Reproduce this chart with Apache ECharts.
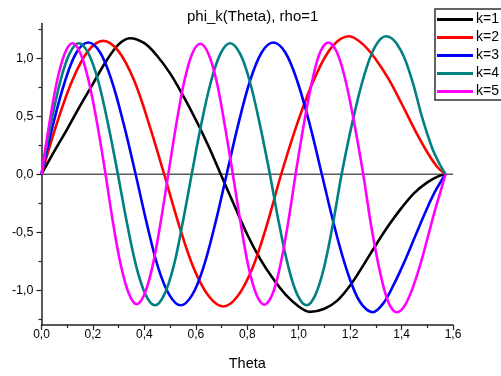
<!DOCTYPE html>
<html>
<head>
<meta charset="utf-8">
<script src="https://cdn.jsdelivr.net/npm/echarts@6/dist/echarts.min.js"></script>
<style>
html,body{margin:0;padding:0;background:#fff;}
#c{width:501px;height:376px;}
</style>
</head>
<body>
<div id="c"></div>
<script>
// ---- data ----
const seriesNames = ['k=1', 'k=2', 'k=3', 'k=4', 'k=5'];
const seriesColors = ['#000000', '#ff0000', '#0000ff', '#008080', '#ff00ff'];

const theta1 = [0, 0.05, 0.10, 0.15, 0.20, 0.25, 0.30, 0.344, 0.40, 0.45, 0.50, 0.55, 0.60, 0.65, 0.697, 0.75, 0.80, 0.85, 0.90, 0.95, 1.00, 1.044, 1.10, 1.15, 1.20, 1.25, 1.30, 1.35, 1.40, 1.45, 1.50, 1.54, 1.571];
const phi1 = [0, 0.20, 0.39, 0.59, 0.78, 0.97, 1.12, 1.173, 1.13, 1.02, 0.87, 0.68, 0.47, 0.24, 0, -0.27, -0.52, -0.73, -0.90, -1.04, -1.14, -1.187, -1.16, -1.09, -0.96, -0.79, -0.61, -0.44, -0.29, -0.16, -0.07, -0.02, 0];

const theta2 = [0, 0.06, 0.12, 0.18, 0.24, 0.30, 0.36, 0.42, 0.477, 0.535, 0.592, 0.65, 0.707, 0.763, 0.82, 0.876, 0.932, 0.998, 1.064, 1.13, 1.196, 1.25, 1.30, 1.35, 1.40, 1.45, 1.50, 1.54, 1.571];
const phi2 = [0, 0.44, 0.81, 1.06, 1.15, 1.06, 0.81, 0.42, 0, -0.44, -0.81, -1.05, -1.14, -1.05, -0.81, -0.44, 0, 0.46, 0.84, 1.10, 1.19, 1.12, 0.99, 0.82, 0.61, 0.39, 0.19, 0.06, 0];

const theta3 = [0, 0.045, 0.091, 0.136, 0.182, 0.228, 0.274, 0.32, 0.366, 0.41, 0.453, 0.497, 0.541, 0.586, 0.63, 0.675, 0.72, 0.765, 0.81, 0.856, 0.901, 0.948, 0.995, 1.043, 1.09, 1.14, 1.189, 1.238, 1.288, 1.33, 1.37, 1.41, 1.45, 1.49, 1.53, 1.571];
const phi3 = [0, 0.43, 0.80, 1.05, 1.136, 1.05, 0.80, 0.43, 0, -0.43, -0.80, -1.04, -1.13, -1.04, -0.80, -0.43, 0, 0.43, 0.80, 1.05, 1.136, 1.05, 0.80, 0.43, 0, -0.46, -0.84, -1.10, -1.19, -1.11, -0.95, -0.76, -0.55, -0.34, -0.15, 0];

const theta4 = [0, 0.036, 0.073, 0.109, 0.145, 0.183, 0.221, 0.259, 0.297, 0.333, 0.369, 0.405, 0.441, 0.477, 0.513, 0.548, 0.584, 0.621, 0.659, 0.696, 0.733, 0.772, 0.81, 0.849, 0.888, 0.924, 0.96, 0.995, 1.031, 1.065, 1.099, 1.133, 1.167, 1.21, 1.253, 1.297, 1.34, 1.36, 1.38, 1.41, 1.445, 1.48, 1.52, 1.55, 1.571];
const phi4 = [0, 0.43, 0.80, 1.04, 1.13, 1.04, 0.80, 0.43, 0, -0.43, -0.80, -1.04, -1.13, -1.04, -0.80, -0.43, 0, 0.43, 0.80, 1.04, 1.13, 1.04, 0.80, 0.43, 0, -0.43, -0.80, -1.04, -1.13, -1.04, -0.80, -0.43, 0, 0.46, 0.84, 1.10, 1.19, 1.175, 1.13, 1.01, 0.78, 0.49, 0.22, 0.08, 0];

const theta5 = [0, 0.03, 0.06, 0.09, 0.12, 0.152, 0.184, 0.217, 0.249, 0.279, 0.309, 0.34, 0.37, 0.401, 0.432, 0.462, 0.493, 0.524, 0.555, 0.586, 0.617, 0.649, 0.681, 0.712, 0.744, 0.775, 0.805, 0.836, 0.866, 0.897, 0.927, 0.958, 0.988, 1.02, 1.052, 1.083, 1.115, 1.149, 1.183, 1.217, 1.251, 1.283, 1.316, 1.348, 1.381, 1.41, 1.44, 1.47, 1.50, 1.53, 1.55, 1.571];
const phi5 = [0, 0.43, 0.80, 1.04, 1.13, 1.04, 0.80, 0.43, 0, -0.43, -0.79, -1.03, -1.12, -1.03, -0.79, -0.43, 0, 0.43, 0.80, 1.04, 1.125, 1.04, 0.80, 0.43, 0, -0.43, -0.80, -1.04, -1.125, -1.04, -0.80, -0.43, 0, 0.43, 0.80, 1.05, 1.136, 1.05, 0.80, 0.43, 0, -0.46, -0.84, -1.10, -1.19, -1.14, -1.00, -0.80, -0.56, -0.31, -0.16, 0];

const xRange = [0, 1.6];
const yRange = [-1.3, 1.3];
const xTickStep = 0.2;
const yMajorTicks = [-1.0, -0.5, 0.0, 0.5, 1.0];
const yMinorTicks = [-1.25, -0.75, -0.25, 0.25, 0.75, 1.25];
const titleText = 'phi_k(Theta), rho=1';
const xName = 'Theta';

// ---- chart ----
const thetas = [theta1, theta2, theta3, theta4, theta5];
const phis = [phi1, phi2, phi3, phi4, phi5];
const fmt = v => v.toFixed(1).replace('.', ',');
const FONT = 'Liberation Sans, Arial, sans-serif';

const chart = echarts.init(document.getElementById('c'), null, {renderer: 'canvas'});

const curveSeries = seriesNames.map((name, i) => ({
  name: name,
  type: 'line',
  data: thetas[i].map((t, j) => [t, phis[i][j]]),
  showSymbol: false,
  smooth: 0.35,
  lineStyle: {color: seriesColors[i], width: 2.6},
  itemStyle: {color: seriesColors[i]},
  z: 3 + i,
  animation: false
}));

const zeroSeries = {
  name: 'zero',
  type: 'line',
  data: xRange.map(x => [x, 0]),
  showSymbol: false,
  lineStyle: {color: '#5a5a5a', width: 1.6},
  z: 2,
  silent: true,
  animation: false
};

chart.setOption({
  animation: false,
  backgroundColor: '#ffffff',
  title: {
    text: titleText,
    left: 187,
    top: 9,
    padding: 0,
    textStyle: {fontFamily: FONT, fontSize: 15, fontWeight: 'normal', color: '#000'}
  },
  legend: {
    data: seriesNames,
    orient: 'vertical',
    left: 435,
    top: 9,
    padding: [3, 8, 1, 2],
    itemWidth: 36,
    itemHeight: 3,
    itemGap: 3,
    icon: 'rect',
    borderColor: '#333',
    borderWidth: 1.5,
    borderRadius: 0,
    backgroundColor: '#fff',
    textStyle: {fontFamily: FONT, fontSize: 14, color: '#000', lineHeight: 15, padding: [0, 0, 0, -2]}
  },
  grid: {left: 41.5, right: 48, top: 23.5, bottom: 49.5, containLabel: false},
  xAxis: {
    type: 'value',
    min: xRange[0],
    max: xRange[1],
    interval: xTickStep,
    name: xName,
    nameLocation: 'middle',
    nameGap: 31,
    nameTextStyle: {fontFamily: FONT, fontSize: 14.5, color: '#000'},
    axisLine: {show: true, onZero: false, lineStyle: {color: '#222', width: 1.5}},
    axisTick: {show: true, inside: false, length: 5, lineStyle: {color: '#222', width: 1.2}},
    minorTick: {show: true, splitNumber: 2, length: 3, lineStyle: {color: '#222', width: 1.2}},
    splitLine: {show: false},
    axisLabel: {formatter: fmt, fontFamily: FONT, fontSize: 12, color: '#000', margin: 4, showMaxLabel: true, showMinLabel: true}
  },
  yAxis: [{
    type: 'value',
    min: yRange[0],
    max: yRange[1],
    axisLine: {show: true, onZero: false, lineStyle: {color: '#222', width: 1.5}},
    axisTick: {show: true, inside: false, length: 5, customValues: yMajorTicks, lineStyle: {color: '#222', width: 1.2}},
    splitLine: {show: false},
    axisLabel: {customValues: yMajorTicks, formatter: fmt, fontFamily: FONT, fontSize: 12.5, color: '#000', margin: 8}
  }, {
    type: 'value',
    position: 'left',
    min: yRange[0],
    max: yRange[1],
    axisLine: {show: false},
    axisTick: {show: true, inside: false, length: 3, customValues: yMinorTicks, lineStyle: {color: '#222', width: 1.2}},
    splitLine: {show: false},
    axisLabel: {show: false}
  }],
  series: [zeroSeries].concat(curveSeries)
});
</script>
</body>
</html>
